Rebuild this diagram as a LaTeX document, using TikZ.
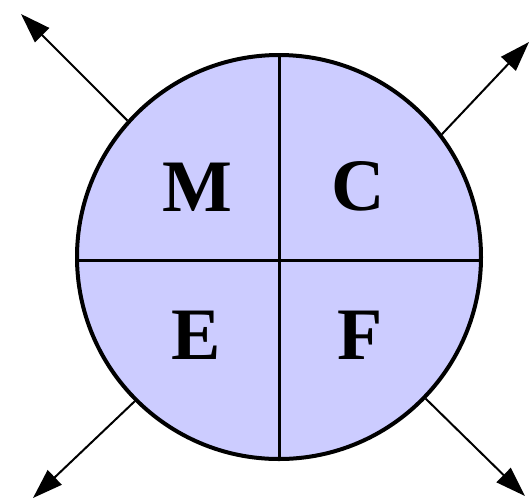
\documentclass[tikz,border=0pt]{standalone}
\usepackage{fontspec}
\setmainfont{Liberation Serif}
\usetikzlibrary{arrows.meta}
\definecolor{lavender}{RGB}{204,204,255}

\begin{document}
\begin{tikzpicture}[x=0.5pt,y=-0.5pt,
    quarter/.style={font=\bfseries\fontsize{37}{40}\selectfont},
    divider/.style={line width=1.5pt},
    pointer/.style={-{Triangle[length=15pt,width=10pt]},line width=1pt}]
			\useasboundingbox (0,0) rectangle (530,500);
			
			% Circle
			\node[circle,draw,line width=2pt,fill=lavender,minimum size=202pt,inner sep=0pt] (disc) at (279,257) {};
			
			% Cross
			\draw[divider] (disc.north) -- (disc.south);
			\draw[divider] ([yshift=-1.5pt]disc.west) -- ([yshift=-1.5pt]disc.east);
			
			% Letters
			\node[quarter] (m) at (197,187) {M};
			\node[quarter] (c) at (358,186) {C};
			\node[quarter] (e) at (196,335) {E};
			\node[quarter] (f) at (360,335) {F};
			
			% Arrow ends
			\coordinate (nw) at (21,14); % top left
			\coordinate (ne) at (529,42); % top right
			\coordinate (sw) at (33,498); % bottom left
			\coordinate (se) at (525,496); % bottom right
			
			% Arrows
			\draw[pointer] (disc.138) -- (nw);
			\draw[pointer] (disc.37) -- (ne);
			\draw[pointer] (disc.225) -- (sw);
			\draw[pointer] (disc.316) -- (se);
		\end{tikzpicture}
\end{document}
